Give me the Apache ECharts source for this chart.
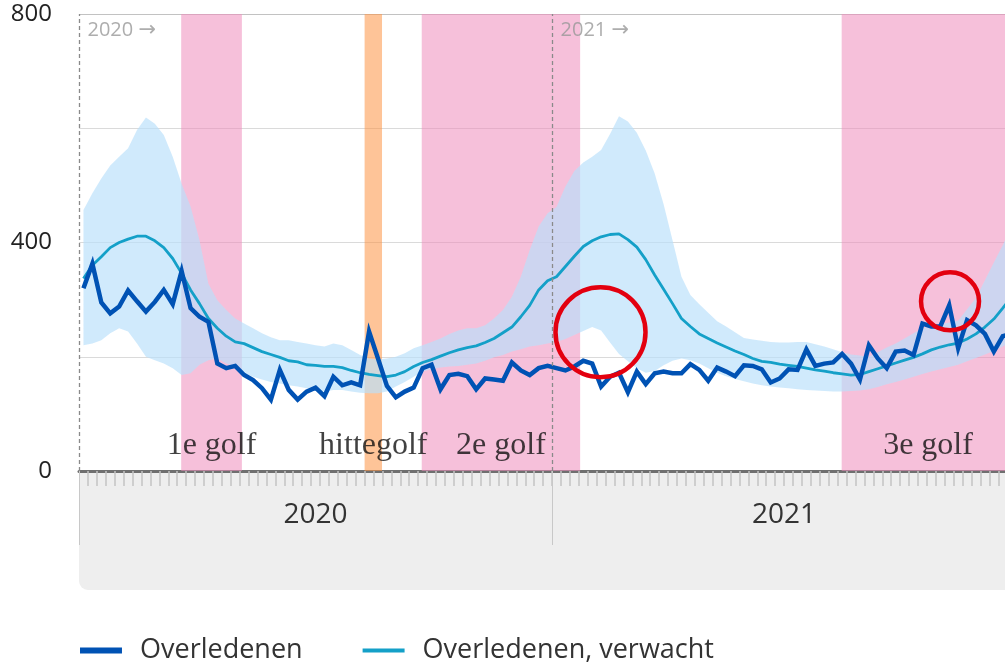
<!DOCTYPE html>
<html>
<head>
<meta charset="utf-8">
<title>Overledenen per week</title>
<script src="https://cdn.jsdelivr.net/npm/echarts@6/dist/echarts.min.js"></script>
<style>
  html, body { margin: 0; padding: 0; background: #fff; }
  #chart { width: 1005px; height: 665px; }
</style>
</head>
<body>
<div id="chart"></div>
<script>
// jaren en aantal weken per jaar
var jaren = ['2020', '2021'];
var jaarWeken = [53, 52];

// overledenen per week
var overledenen2020 = [320, 363, 295, 276, 288, 316, 297, 279, 296, 317, 292, 350, 285, 270, 261, 188, 180, 184, 168, 159,
  145, 125, 177, 142, 125, 139, 146, 131, 165, 150, 155, 150, 244, 197, 149, 129, 139, 146, 180, 186,
  143, 168, 170, 166, 143, 162, 160, 158, 190, 176, 168, 180, 184];
var overledenen2021 = [180, 176, 183, 193, 188, 148, 165, 172, 138, 174, 152, 171, 174, 171, 171, 187, 177, 158, 181, 174,
  166, 185, 184, 178, 155, 162, 178, 177, 213, 184, 188, 190, 205, 188, 160, 220, 197, 180, 209, 211,
  203, 258, 253, 253, 290, 215, 264, 255, 240, 209, 236, 240];

// verwacht aantal overledenen
var verwacht2020 = [337, 360, 375, 391, 400, 406, 411, 411, 403, 391, 372, 346, 317, 293, 267, 250, 236, 226, 223, 216,
  209, 204, 199, 193, 191, 186, 185, 183, 183, 181, 176, 172, 169, 167, 165, 168, 174, 183, 190, 195,
  201, 207, 212, 216, 219, 225, 232, 242, 252, 270, 290, 317, 333];
var verwacht2021 = [340, 358, 376, 393, 403, 410, 414, 415, 405, 392, 370, 343, 318, 293, 267, 253, 240, 232, 224, 217,
  210, 204, 197, 192, 190, 187, 185, 183, 180, 177, 175, 172, 170, 168, 169, 174, 179, 184, 189, 194,
  199, 205, 212, 217, 221, 224, 231, 240, 252, 266, 285, 305];

// bandbreedte verwachting (onder- en bovengrens)
var onder2020 = [220, 223, 229, 241, 250, 244, 223, 200, 194, 188, 180, 168, 171, 186, 194, 197, 188, 183, 171, 165,
  160, 156, 153, 150, 148, 145, 141, 139, 142, 142, 139, 137, 136, 136, 139, 148, 156, 165, 174, 178,
  181, 183, 184, 186, 188, 193, 199, 203, 209, 213, 218, 220, 223];
var onder2021 = [226, 231, 238, 245, 252, 246, 225, 205, 192, 180, 172, 175, 185, 193, 197, 194, 188, 180, 172, 166,
  161, 157, 153, 150, 148, 146, 145, 143, 142, 141, 140, 139, 139, 140, 141, 143, 147, 152, 156, 160,
  165, 170, 174, 178, 182, 186, 192, 198, 204, 210, 218, 226];
var boven2020 = [457, 486, 512, 535, 550, 565, 597, 619, 608, 588, 550, 503, 463, 404, 328, 299, 282, 267, 258, 250,
  241, 234, 229, 229, 226, 223, 220, 218, 223, 220, 212, 203, 197, 195, 197, 200, 206, 215, 220, 226,
  232, 240, 246, 250, 250, 255, 267, 282, 305, 340, 387, 428, 451];
var boven2021 = [462, 498, 525, 540, 550, 562, 590, 621, 612, 592, 561, 521, 467, 404, 340, 308, 292, 277, 262, 253,
  243, 233, 230, 228, 226, 225, 225, 226, 226, 222, 218, 213, 208, 204, 202, 200, 208, 216, 223, 232,
  241, 250, 254, 257, 260, 263, 283, 303, 334, 365, 395, 430];

// golven (in weken vanaf begin 2020)
var golfNamen = ['1e golf', 'hittegolf', '2e golf', '3e golf'];
var golfStart = [11.45, 32, 38.4, 85.45];
var golfEind = [18.25, 33.95, 56.15, 104.8];

var yTicks = [0, 400, 800];

// zichtbaar deel van de x-as (in weken vanaf begin 2020)
var xMax = 103.75;

// weekposities en jaargrenzen
var weekPos = [];
var jaarStart = [];
var totaal = 0;
jaren.forEach(function (j, i) {
  jaarStart.push(totaal);
  for (var w = 0; w < jaarWeken[i]; w++) weekPos.push(totaal + w + 0.5);
  totaal += jaarWeken[i];
});
var jaarMidden = jaren.map(function (j, i) { return jaarStart[i] + jaarWeken[i] / 2; });
var weekGrenzen = [];
for (var g = 1; g < xMax; g++) weekGrenzen.push(g);

var overledenen = overledenen2020.concat(overledenen2021);
var verwacht = verwacht2020.concat(verwacht2021);
var onder = onder2020.concat(onder2021);
var boven = boven2020.concat(boven2021);

function punten(vals) {
  return vals.map(function (v, i) { return [weekPos[i], v]; });
}

var font = "'Open Sans', 'Noto Sans', sans-serif";
var roze = 'rgba(239,140,188,0.55)';
var oranje = 'rgba(253,148,68,0.55)';

// legenda-icoon: balk met ruimte boven en onder
function balk(dikte) {
  var t = (14 - dikte) / 2;
  return 'path://M0,0H42V0.01H0Z M0,' + t + 'H42V' + (t + dikte) + 'H0Z M0,14H42V14.01H0Z';
}

var chart = echarts.init(document.getElementById('chart'));

var option = {
  animation: false,
  textStyle: { fontFamily: font },
  grid: { left: 79, top: 14, right: 0, bottom: 194, containLabel: false },
  graphic: [{
    type: 'rect',
    z: -100,
    silent: true,
    shape: { x: 79, y: 471, width: 940, height: 119, r: [0, 0, 0, 9] },
    style: { fill: '#eeeeee' }
  }],
  legend: {
    data: [
      { name: 'Overledenen', icon: balk(6) },
      { name: 'Overledenen, verwacht', icon: balk(4) }
    ],
    left: 75,
    top: 632,
    itemWidth: 42,
    itemHeight: 14,
    itemGap: 60,
    textStyle: { fontSize: 27, color: '#333', fontFamily: font, padding: [0, 0, 0, 13] }
  },
  xAxis: [{
    type: 'value',
    min: 0,
    max: xMax,
    position: 'bottom',
    axisLine: { show: true, lineStyle: { color: '#6f6f6f', width: 3 } },
    axisTick: {
      show: true,
      length: 15,
      customValues: weekGrenzen,
      lineStyle: { color: '#c4c4c4', width: 1.5 }
    },
    axisLabel: {
      show: true,
      customValues: jaarMidden,
      margin: 30,
      fontSize: 28,
      color: '#333',
      formatter: function (v) {
        for (var i = 0; i < jaren.length; i++) {
          if (Math.abs(v - jaarMidden[i]) < 0.01) return jaren[i];
        }
        return '';
      }
    },
    splitLine: { show: false }
  }, {
    type: 'value',
    min: 0,
    max: xMax,
    position: 'bottom',
    axisLine: { show: false },
    axisTick: {
      show: true,
      length: 74,
      customValues: jaarStart,
      lineStyle: { color: '#c8c8c8', width: 1 }
    },
    axisLabel: { show: false },
    splitLine: { show: false }
  }],
  yAxis: {
    type: 'value',
    min: 0,
    max: 800,
    interval: 200,
    axisLine: { show: false },
    axisTick: { show: false },
    axisLabel: {
      customValues: yTicks,
      fontSize: 24,
      color: '#222',
      margin: 27
    },
    splitLine: {
      show: true,
      lineStyle: { color: ['#dadada', '#dadada', '#dadada', '#dadada', '#c2c2c2'], width: 1.2 }
    }
  },
  series: [{
    // bandbreedte als een vlak tussen onder- en bovengrens
    name: 'bandbreedte',
    type: 'custom',
    silent: true,
    clip: true,
    z: 2,
    data: weekPos.map(function (x, i) { return [x, onder[i], boven[i]]; }),
    renderItem: function (params, api) {
      if (params.dataIndex !== 0) return null;
      var pts = [];
      var i;
      for (i = 0; i < weekPos.length; i++) pts.push(api.coord([weekPos[i], boven[i]]));
      for (i = weekPos.length - 1; i >= 0; i--) pts.push(api.coord([weekPos[i], onder[i]]));
      return {
        type: 'polygon',
        shape: { points: pts },
        style: { fill: 'rgba(186,224,251,0.68)' }
      };
    }
  }, {
    name: 'Overledenen, verwacht',
    type: 'line',
    data: punten(verwacht),
    symbol: 'none',
    color: '#14a0c8',
    lineStyle: { color: '#14a0c8', width: 2.8 },
    z: 3
  }, {
    name: 'Overledenen',
    type: 'line',
    data: punten(overledenen),
    symbol: 'none',
    color: '#0052b4',
    lineStyle: { color: '#0052b4', width: 4.5, join: 'miter' },
    z: 4
  }, {
    name: 'golflabels',
    type: 'scatter',
    silent: true,
    clip: false,
    symbolSize: 1,
    itemStyle: { color: 'rgba(0,0,0,0)' },
    data: golfNamen.map(function (n, i) { return [(golfStart[i] + golfEind[i]) / 2, 44, n]; }),
    label: {
      show: true,
      position: 'inside',
      formatter: function (p) { return p.value[2]; },
      fontFamily: "'Liberation Serif', 'DejaVu Serif', serif",
      fontSize: 32,
      color: '#111'
    },
    markArea: {
      silent: true,
      label: { show: false },
      data: golfNamen.map(function (n, i) {
        return [
          { xAxis: golfStart[i], itemStyle: { color: n === 'hittegolf' ? oranje : roze } },
          { xAxis: Math.min(golfEind[i], xMax) }
        ];
      })
    },
    markLine: {
      silent: true,
      symbol: ['none', 'none'],
      label: { show: false },
      lineStyle: { type: [4, 3], color: '#8a8a8a', width: 1.3 },
      data: jaarStart.map(function (s) { return { xAxis: s }; })
    },
    markPoint: {
      silent: true,
      symbol: 'circle',
      label: { show: false },
      itemStyle: { color: 'rgba(0,0,0,0)', borderColor: '#e3000f', borderWidth: 4.5 },
      data: [
        { coord: [58.43, 243], symbolSize: 90 },
        { coord: [97.59, 297], symbolSize: 58 }
      ]
    }
  }, {
    name: 'jaarlabels',
    type: 'scatter',
    silent: true,
    clip: false,
    symbolSize: 1,
    itemStyle: { color: 'rgba(0,0,0,0)' },
    data: jaren.map(function (j, i) { return [jaarStart[i], 771, j]; }),
    label: {
      show: true,
      position: 'right',
      distance: 8,
      formatter: function (p) { return p.value[2] + ' {pijl|\u2192}'; },
      fontSize: 20,
      color: '#999',
      rich: {
        pijl: { fontFamily: "'DejaVu Sans', sans-serif", fontSize: 21, color: '#999' }
      }
    }
  }]
};

chart.setOption(option);
</script>
</body>
</html>
